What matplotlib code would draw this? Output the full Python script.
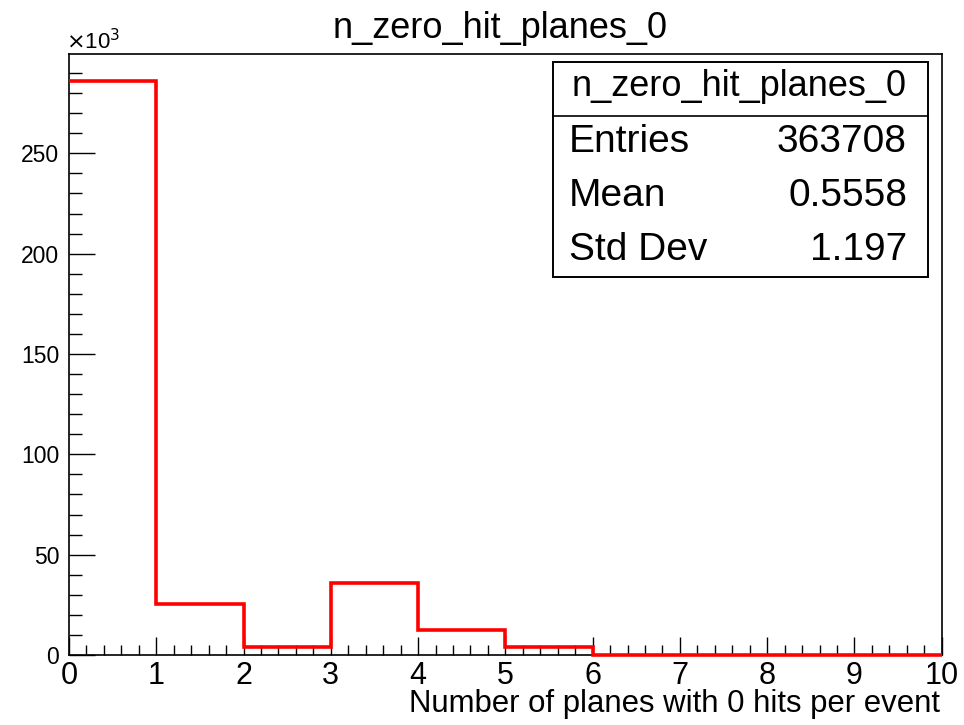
import numpy as np
import matplotlib.pyplot as plt
from matplotlib.ticker import MultipleLocator, FuncFormatter
from matplotlib.patches import Rectangle

plt.rcParams['font.family'] = ['Liberation Sans', 'DejaVu Sans']

# === data ===
bin_edges = [0, 1, 2, 3, 4, 5, 6, 7, 8, 9, 10]
counts = [285900, 25200, 4100, 36000, 12400, 4100, 150, 0, 0, 0]
hist_name = "n_zero_hit_planes_0"
x_label = "Number of planes with 0 hits per event"
stat_names = ["Entries", "Mean", "Std Dev"]
stat_values = ["363708", "0.5558", "1.197"]

W, H = 964, 725
fig = plt.figure(figsize=(W / 100, H / 100), dpi=100)
ax = fig.add_axes([69 / W, 1 - 655 / H, (941.7 - 69) / W, (655 - 54.3) / H])

ax.stairs(counts, bin_edges, color="#ff0000", linewidth=2.6, baseline=None,
          zorder=4, clip_on=False)
ax.set_xlim(0, 10)
ax.set_ylim(0, max(counts) * 1.047)

# ROOT-ish axes
for s in ax.spines.values():
    s.set_linewidth(1.2)
    s.set_zorder(3)
ax.xaxis.set_major_locator(MultipleLocator(1))
ax.xaxis.set_minor_locator(MultipleLocator(0.2))
ax.yaxis.set_major_locator(MultipleLocator(50000))
ax.yaxis.set_minor_locator(MultipleLocator(10000))
ax.yaxis.set_major_formatter(FuncFormatter(lambda v, p: f"{v / 1000:g}"))
ax.tick_params(axis="x", which="major", direction="in", length=13, width=1, labelsize=22, pad=4)
ax.tick_params(axis="x", which="minor", direction="in", length=7, width=1)
ax.tick_params(axis="y", which="major", direction="in", length=19, width=1, labelsize=16.5, pad=7)
ax.tick_params(axis="y", which="minor", direction="in", length=9, width=1)

fig.text(66 / W, 1 - 42 / H, r"$\times$10$^{3}$", fontsize=16, ha="left", va="center")
fig.text(500 / W, 1 - 28 / H, hist_name, fontsize=26, ha="center", va="center")
fig.text(940 / W, 1 - 704 / H, x_label, fontsize=22.4, ha="right", va="center")

# stats box
bx0, bx1, by0, by1 = 553 / W, 928 / W, 1 - 276.7 / H, 1 - 61.7 / H
fig.patches.append(Rectangle((bx0, by0), bx1 - bx0, by1 - by0, transform=fig.transFigure,
                             facecolor="white", edgecolor="black", linewidth=1.4, zorder=5))
fig.add_artist(plt.Line2D([bx0, bx1], [1 - 116 / H, 1 - 116 / H], transform=fig.transFigure,
                          color="black", linewidth=1.2, zorder=6))
fig.text(739 / W, 1 - 86 / H, hist_name, fontsize=26, ha="center", va="center", zorder=7)
row_y = [142, 196, 250]
for name, val, yy in zip(stat_names, stat_values, row_y):
    fig.text(569 / W, 1 - yy / H, name, fontsize=28, ha="left", va="center", zorder=7)
    fig.text(907 / W, 1 - yy / H, val, fontsize=28, ha="right", va="center", zorder=7)

fig.savefig("out.png", dpi=100)
